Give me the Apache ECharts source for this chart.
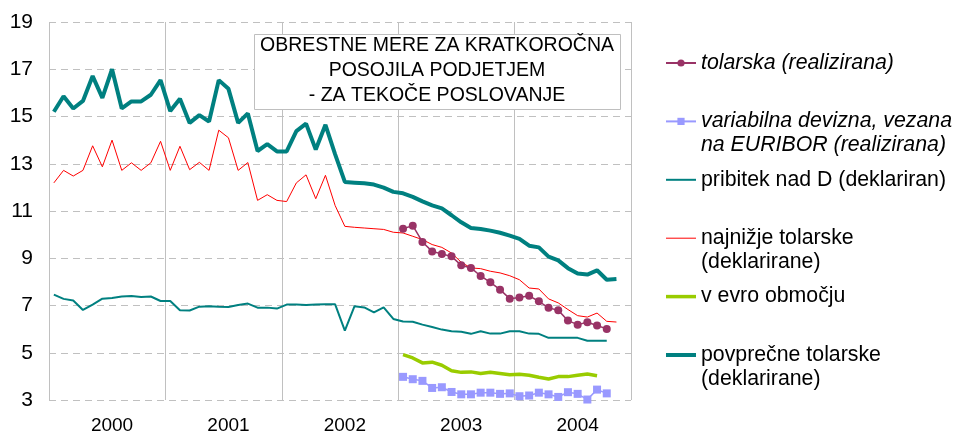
<!DOCTYPE html>
<html>
<head>
<meta charset="utf-8">
<script src="https://cdn.jsdelivr.net/npm/echarts@6/dist/echarts.min.js"></script>
<style>
  html, body { margin: 0; padding: 0; background: #fff; }
  #chart { width: 954px; height: 435px; }
</style>
</head>
<body>
<div id="chart"></div>
<script>
// mesečni podatki jan 2000 - dec 2004
var years = ["2000", "2001", "2002", "2003", "2004"];
var months = [];
years.forEach(function (y) {
  for (var m = 1; m <= 12; m++) months.push(y + "-" + (m < 10 ? "0" + m : m));
});
var yTicks = [3, 5, 7, 9, 11, 13, 15, 17, 19];

function pad(n) { return new Array(n).fill(null); }

// povprečne tolarske (deklarirane)
var povprecne = [
  15.2, 15.86, 15.34, 15.66, 16.71, 15.79, 17.0, 15.34, 15.64, 15.64, 15.92, 16.54,
  15.23, 15.75, 14.73, 15.06, 14.79, 16.54, 16.17, 14.73, 15.13, 13.54, 13.83, 13.52,
  13.52, 14.38, 14.7, 13.6, 14.65, 13.4, 12.23, 12.2, 12.17, 12.12, 11.99, 11.81,
  11.75, 11.6, 11.41, 11.24, 11.11, 10.82, 10.52, 10.28, 10.24, 10.17, 10.08, 9.96,
  9.82, 9.53, 9.46, 9.07, 8.91, 8.58, 8.35, 8.31, 8.49, 8.09, 8.12, null
];
// najnižje tolarske (deklarirane)
var najnizje = [
  12.19, 12.72, 12.48, 12.72, 13.76, 12.87, 14.0, 12.72, 13.04, 12.72, 13.04, 13.95,
  12.72, 13.74, 12.75, 13.06, 12.72, 14.42, 14.1, 12.72, 13.05, 11.45, 11.69, 11.45,
  11.4, 12.19, 12.53, 11.52, 12.51, 11.23, 10.35, 10.31, 10.28, 10.25, 10.22, 10.1,
  10.07, 9.93, 9.79, 9.58, 9.46, 9.22, 8.83, 8.59, 8.56, 8.45, 8.38, 8.26,
  8.09, 7.74, 7.7, 7.28, 7.11, 6.83, 6.57, 6.51, 6.68, 6.33, 6.3, null
];
// pribitek nad D (deklariran)
var pribitek = [
  7.46, 7.28, 7.21, 6.81, 7.04, 7.29, 7.32, 7.38, 7.4, 7.36, 7.38, 7.19,
  7.19, 6.8, 6.79, 6.95, 6.97, 6.95, 6.94, 7.02, 7.08, 6.91, 6.91, 6.87,
  7.04, 7.04, 7.02, 7.04, 7.05, 7.05, 5.94, 6.97, 6.92, 6.71, 6.92, 6.43,
  6.32, 6.31, 6.19, 6.09, 5.98, 5.91, 5.89, 5.8, 5.91, 5.81, 5.81, 5.91,
  5.91, 5.81, 5.8, 5.63, 5.63, 5.63, 5.63, 5.51, 5.51, 5.51, null, null
];
// tolarska (realizirana), od jan 2003
var tolarska = pad(36).concat([
  10.25, 10.38, 9.69, 9.29, 9.18, 9.08, 8.7, 8.59, 8.25, 7.98, 7.67, 7.29,
  7.34, 7.41, 7.18, 6.9, 6.8, 6.36, 6.19, 6.29, 6.15, 6.01, null, null
]);
// variabilna devizna, vezana na EURIBOR (realizirana)
var variabilna = pad(36).concat([
  3.98, 3.88, 3.81, 3.51, 3.54, 3.34, 3.24, 3.24, 3.31, 3.31, 3.26, 3.28,
  3.16, 3.19, 3.31, 3.24, 3.13, 3.33, 3.26, 3.02, 3.44, 3.28, null, null
]);
// v evro območju
var evro = pad(36).concat([
  4.92, 4.78, 4.57, 4.6, 4.47, 4.24, 4.17, 4.19, 4.12, 4.17, 4.12, 4.07,
  4.09, 4.05, 3.96, 3.89, 3.99, 3.99, 4.05, 4.1, 4.03, null, null, null
]);

var FONT = "'Liberation Sans', Arial, sans-serif";
var chart = echarts.init(document.getElementById("chart"));

var option = {
  animation: false,
  backgroundColor: "#fff",
  grid: { left: 49, right: 323, top: 22, bottom: 35 },
  xAxis: [
    {
      type: "category",
      data: months,
      boundaryGap: true,
      axisLine: { show: false },
      axisTick: { show: false },
      splitLine: { show: false },
      axisLabel: {
        interval: function (i) { return i % 12 === 6; },
        formatter: function (v) { return v.slice(0, 4); },
        margin: 16,
        color: "#000",
        fontSize: 19,
        fontFamily: FONT
      }
    },
    {
      // samo navpične črte med leti
      type: "value",
      min: 0,
      max: 60,
      interval: 12,
      position: "top",
      axisLine: { show: false },
      axisTick: { show: false },
      axisLabel: { show: false },
      splitLine: { show: true, lineStyle: { color: "#c0c0c0", width: 1 } }
    }
  ],
  yAxis: {
    type: "value",
    min: yTicks[0],
    max: yTicks[yTicks.length - 1],
    interval: 2,
    axisLine: { show: false },
    axisTick: { show: false },
    axisLabel: { margin: 16, color: "#000", fontSize: 21, fontFamily: FONT },
    splitLine: { lineStyle: { color: "#c0c0c0", type: [7, 5], width: 1 } }
  },
  legend: {
    orient: "vertical",
    left: 664,
    top: 51,
    padding: 0,
    itemGap: 10.4,
    itemWidth: 30,
    itemHeight: 9,
    itemTextGap: 5,
    selectedMode: false,
    // dvovrstični napisi: prva vrstica poravnana z ikono
    formatter: function (name) {
      return name.indexOf("\n") >= 0 ? "\n" + name : name;
    },
    textStyle: { color: "#000", fontSize: 21.3, fontFamily: FONT, lineHeight: 24 },
    data: [
      { name: "tolarska (realizirana)", textStyle: { fontStyle: "italic" } },
      { name: "variabilna devizna, vezana\nna EURIBOR (realizirana)", textStyle: { fontStyle: "italic" } },
      { name: "pribitek nad D (deklariran)", itemStyle: { opacity: 0 }, lineStyle: { width: 2 } },
      { name: "najnižje tolarske\n(deklarirane)", itemStyle: { opacity: 0 }, lineStyle: { width: 1 } },
      { name: "v evro območju", itemStyle: { opacity: 0 }, lineStyle: { width: 3.5 } },
      { name: "povprečne tolarske\n(deklarirane)", itemStyle: { opacity: 0 }, lineStyle: { width: 4 } }
    ]
  },
  graphic: [
    {
      type: "rect",
      z: 100,
      shape: { x: 254.5, y: 34.5, width: 366, height: 75 },
      style: { fill: "#fff", stroke: "#bfbfbf", lineWidth: 1 }
    },
    {
      type: "text",
      z: 101,
      style: {
        x: 437,
        y: 71,
        text: "OBRESTNE MERE ZA KRATKOROČNA\nPOSOJILA PODJETJEM\n- ZA TEKOČE POSLOVANJE",
        align: "center",
        verticalAlign: "middle",
        lineHeight: 25,
        fill: "#000",
        font: "19.5px " + FONT
      }
    }
  ],
  series: [
    {
      name: "tolarska (realizirana)",
      type: "line",
      data: tolarska,
      symbol: "circle",
      symbolSize: 8,
      showAllSymbol: true,
      color: "#993366",
      lineStyle: { width: 1.5, color: "#993366" },
      itemStyle: { color: "#993366" },
      z: 6
    },
    {
      name: "variabilna devizna, vezana\nna EURIBOR (realizirana)",
      type: "line",
      data: variabilna,
      symbol: "rect",
      symbolSize: 8,
      showAllSymbol: true,
      color: "#9999ff",
      lineStyle: { width: 1.5, color: "#9999ff" },
      itemStyle: { color: "#9999ff" },
      z: 5
    },
    {
      name: "pribitek nad D (deklariran)",
      type: "line",
      data: pribitek,
      symbol: "none",
      color: "#008080",
      lineStyle: { width: 2, color: "#008080" }
    },
    {
      name: "najnižje tolarske\n(deklarirane)",
      type: "line",
      data: najnizje,
      symbol: "none",
      color: "#ff0000",
      lineStyle: { width: 1, color: "#ff0000" }
    },
    {
      name: "v evro območju",
      type: "line",
      data: evro,
      symbol: "none",
      color: "#99cc00",
      lineStyle: { width: 3.5, color: "#99cc00" }
    },
    {
      name: "povprečne tolarske\n(deklarirane)",
      type: "line",
      data: povprecne,
      symbol: "none",
      color: "#008080",
      lineStyle: { width: 4, color: "#008080" }
    }
  ]
};
chart.setOption(option);
</script>
</body>
</html>
